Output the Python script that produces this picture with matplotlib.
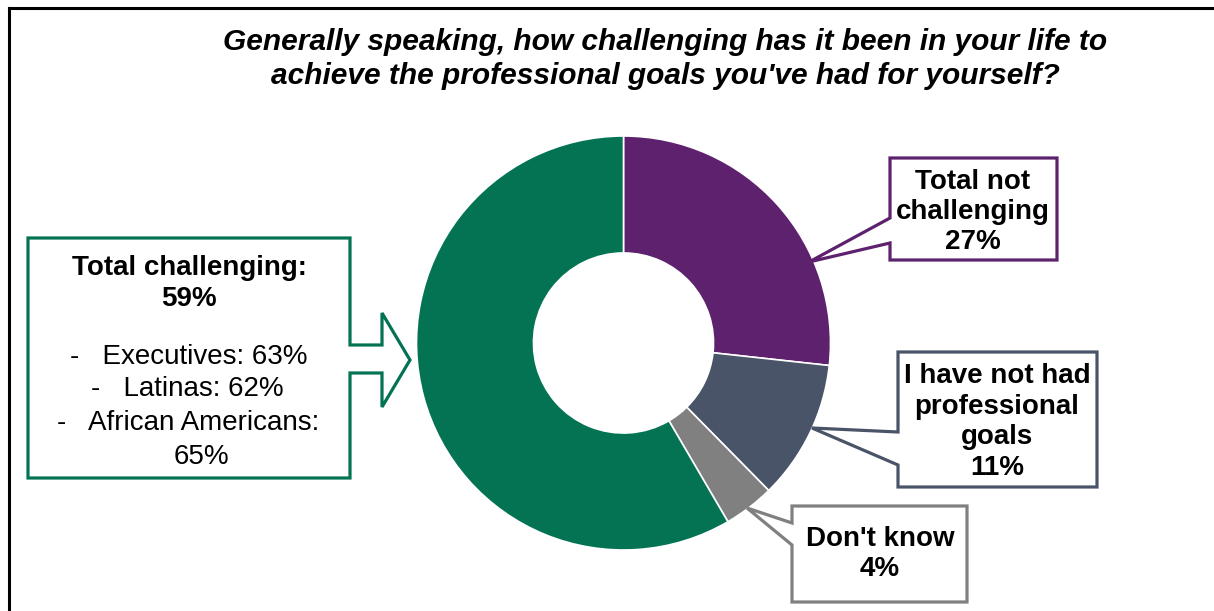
import matplotlib.pyplot as plt
from matplotlib.patches import Polygon

plt.rcParams['font.family'] = ['Liberation Sans', 'DejaVu Sans']

# survey answers, clockwise from the top
labels = ['Total not challenging', 'I have not had professional goals', "Don't know", 'Total challenging']
values = [27, 11, 4, 59]
colors = ['#5E216D', '#4A5468', '#808080', '#047354']

title = ("Generally speaking, how challenging has it been in your life to\n"
         "achieve the professional goals you've had for yourself?")

# subgroups for the challenging callout
groups = ['Executives', 'Latinas', 'African Americans']
group_values = [63, 62, 65]

W, H = 1214, 611
fig = plt.figure(figsize=(W / 100, H / 100), dpi=100)

# donut: centre (623.5, 343) px, radius 207 px
cx, cy, r = 623.5, 343, 207
ax = fig.add_axes([(cx - r) / W, (H - cy - r) / H, 2 * r / W, 2 * r / H])
ax.pie(values, colors=colors, startangle=90, counterclock=False,
       wedgeprops=dict(width=0.565, edgecolor='white', linewidth=1.2))
ax.set_xlim(-1, 1)
ax.set_ylim(-1, 1)
ax.set_aspect('equal')
ax.axis('off')

# overlay in pixel coordinates for the callouts
ov = fig.add_axes([0, 0, 1, 1], facecolor='none')
ov.set_xlim(0, W)
ov.set_ylim(H, 0)
ov.axis('off')

# frame lines (top and left only)
ov.plot([9, W], [8, 8], color='black', lw=2.2)
ov.plot([9, 9], [8, H], color='black', lw=2.2)

ov.text(665, 59, title, ha='center', va='center', fontsize=21.5,
        fontweight='bold', fontstyle='italic', linespacing=1.23)


def callout(pts, color):
    ov.add_patch(Polygon(pts, closed=True, facecolor='white',
                         edgecolor=color, lw=2.3, joinstyle='miter'))


# left arrow box
callout([(28, 238), (350, 238), (350, 345), (382, 345), (382, 313), (410, 360),
         (382, 407), (382, 373), (350, 373), (350, 478), (28, 478)], colors[3])
callout([(890, 158), (1057, 158), (1057, 260), (890, 260), (890, 243),
         (809, 262), (890, 218)], colors[0])
callout([(898, 352), (1097, 352), (1097, 487), (898, 487), (898, 465),
         (812, 428), (898, 432)], colors[1])
callout([(792, 506), (967, 506), (967, 602), (792, 602), (792, 545),
         (747, 508), (792, 523)], colors[2])

fs = 20
ov.text(189, 268, 'Total challenging:', ha='center', va='center', fontsize=fs, fontweight='bold')
ov.text(189, 299, f'{values[3]}%', ha='center', va='center', fontsize=fs, fontweight='bold')
ov.text(189, 357, f'-   {groups[0]}: {group_values[0]}%', ha='center', va='center', fontsize=fs)
ov.text(187, 389, f'-   {groups[1]}: {group_values[1]}%', ha='center', va='center', fontsize=fs)
ov.text(188, 423, f'-   {groups[2]}:', ha='center', va='center', fontsize=fs)
ov.text(201, 457, f'{group_values[2]}%', ha='center', va='center', fontsize=fs)

ov.text(973, 212, f'Total not\nchallenging\n{values[0]}%', ha='center', va='center',
        fontsize=fs, fontweight='bold', linespacing=1.22)
ov.text(997, 422, f'I have not had\nprofessional\ngoals\n{values[1]}%', ha='center',
        va='center', fontsize=fs, fontweight='bold', linespacing=1.22)
ov.text(880, 554, f"Don't know\n{values[2]}%", ha='center', va='center',
        fontsize=fs, fontweight='bold', linespacing=1.22)

fig.savefig('out.png', dpi=100)
